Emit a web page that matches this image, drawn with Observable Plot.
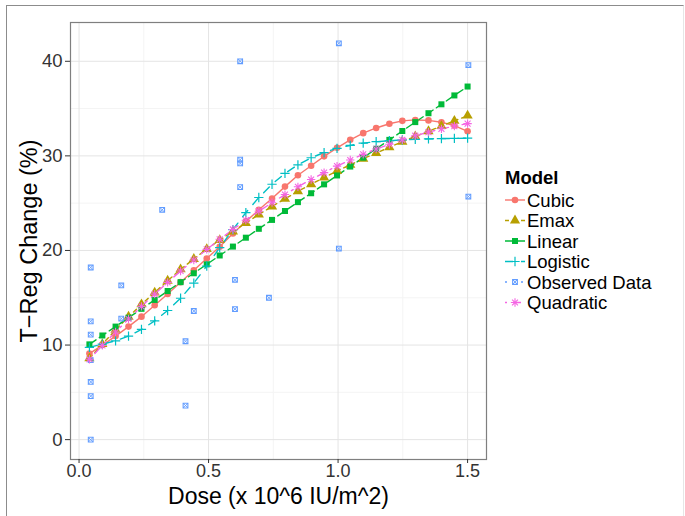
<!DOCTYPE html>
<html><head><meta charset="utf-8">
<script src="https://cdn.jsdelivr.net/npm/d3@7"></script>
<script src="https://cdn.jsdelivr.net/npm/@observablehq/plot@0.6"></script>
<style>
body{margin:0;background:#fff;font-family:Arial,"Liberation Sans",sans-serif;}
#wrap{position:relative;width:685px;height:516px;overflow:hidden;background:#fff;}
#frame{position:absolute;left:6px;top:5px;width:676px;height:600px;border-left:1px solid #8c8c8c;border-top:1px solid #8c8c8c;border-right:1px solid #e6e6e6;}
#chart{position:absolute;left:0;top:0;}
#legend{position:absolute;left:0;top:0;}
</style></head>
<body><div id="wrap"><div id="frame"></div><div id="chart"></div><svg id="legend" width="685" height="516"></svg></div>
<script>
// ---- data ----
const models = ["Cubic","Emax","Linear","Logistic","Observed Data","Quadratic"];
const colors = ["#F8766D","#B79F00","#00BA38","#00BFC4","#619CFF","#F564E3"];
const dashes = ["none","4,4","8,4","8,8","2,6","2,6,8,6"];

const doses = [0.040,0.090,0.141,0.191,0.241,0.292,0.342,0.392,0.443,0.493,0.543,0.594,0.644,0.694,0.745,0.795,0.845,0.896,0.946,0.996,1.047,1.097,1.147,1.198,1.248,1.298,1.349,1.399,1.449,1.500];
const cubic = [9.1,10.0,10.95,11.95,13.0,14.2,15.4,16.65,17.9,19.15,20.4,21.8,23.05,24.3,25.5,26.75,27.95,28.95,29.95,30.85,31.7,32.4,32.95,33.4,33.7,33.8,33.75,33.55,33.2,32.6];
const emax = [8.6,10.1,11.6,13.0,14.3,15.55,16.8,18.0,19.1,20.15,21.1,22.0,22.9,23.8,24.65,25.45,26.25,27.0,27.7,28.4,29.05,29.7,30.3,30.9,31.5,32.05,32.6,33.15,33.7,34.25];
const linear = [10.07,11.01,11.95,12.89,13.83,14.77,15.71,16.65,17.59,18.53,19.47,20.41,21.35,22.29,23.23,24.17,25.11,26.05,26.99,27.93,28.87,29.81,30.75,31.69,32.63,33.57,34.51,35.45,36.39,37.33];
const logistic = [9.75,10.1,10.45,10.95,11.65,12.55,13.65,14.95,16.55,18.35,20.3,22.2,24.0,25.6,27.0,28.15,29.05,29.8,30.35,30.8,31.1,31.35,31.5,31.6,31.7,31.75,31.8,31.83,31.85,31.87];
const quadratic = [8.5,9.96,11.38,12.76,14.09,15.38,16.63,17.83,18.99,20.11,21.18,22.22,23.2,24.15,25.05,25.91,26.73,27.5,28.23,28.92,29.56,30.16,30.72,31.23,31.7,32.13,32.51,32.86,33.15,33.41];

const obsDose = [0.045,0.045,0.045,0.045,0.045,0.045,0.045,0.163,0.163,0.321,0.411,0.411,0.443,0.602,0.602,0.622,0.622,0.622,0.622,0.733,1.003,1.003,1.503,1.503];
const obsValue = [18.2,12.5,11.1,8.4,6.1,4.6,0.0,16.3,12.8,24.3,10.4,3.6,13.6,16.9,13.8,40.0,29.6,29.2,26.7,15.0,41.9,20.2,39.6,25.7];

const yMajor = [0,10,20,30,40];
const yMinor = [5,15,25,35];
const xMajor = [0,0.5,1,1.5];
const xMinor = [0.25,0.75,1.25];
const xTickLabels = ["0.0","0.5","1.0","1.5"];

// ---- tables ----
const series = {Cubic:cubic, Emax:emax, Linear:linear, Logistic:logistic, Quadratic:quadratic};
const curveRows = [];
for (const m of Object.keys(series)) series[m].forEach((v,i)=>curveRows.push({model:m, dose:doses[i], value:v}));
const obsRows = obsDose.map((d,i)=>({dose:d, value:obsValue[i]}));
const col = m => colors[models.indexOf(m)];
const dash = m => dashes[models.indexOf(m)];
const rowsOf = m => curveRows.filter(r=>r.model===m);

const lineMarks = Object.keys(series).map(m =>
  Plot.line(rowsOf(m), {x:"dose", y:"value", stroke:col(m), strokeWidth:1.4, strokeDasharray:dash(m)==="none"?null:dash(m)}));

const dotMarks = [
  Plot.dot(rowsOf("Cubic"), {x:"dose", y:"value", fill:col("Cubic"), r:3.3, symbol:"circle"}),
  Plot.dot(rowsOf("Emax"), {x:"dose", y:"value", fill:col("Emax"), r:3.8, symbol:"triangle"}),
  Plot.dot(rowsOf("Linear"), {x:"dose", y:"value", fill:col("Linear"), r:3.4, symbol:"square"}),
  Plot.dot(rowsOf("Logistic"), {x:"dose", y:"value", stroke:col("Logistic"), fill:"none", r:3.1, symbol:"plus", strokeWidth:1.2}),
  Plot.dot(obsRows, {x:"dose", y:"value", stroke:col("Observed Data"), fill:"none", r:3.0, symbol:"square2", strokeWidth:1.1}),
  Plot.dot(obsRows, {x:"dose", y:"value", stroke:col("Observed Data"), fill:"none", r:2.2, symbol:"times", strokeWidth:0.9}),
  Plot.dot(rowsOf("Quadratic"), {x:"dose", y:"value", stroke:col("Quadratic"), fill:"none", r:2.8, symbol:"plus", strokeWidth:1.1}),
  Plot.dot(rowsOf("Quadratic"), {x:"dose", y:"value", stroke:col("Quadratic"), fill:"none", r:2.8, symbol:"times", strokeWidth:1.1})
];

const chart = Plot.plot({
  width:685, height:516,
  marginLeft:70, marginRight:199, marginTop:22, marginBottom:57,
  style:{fontFamily:"Arial, 'Liberation Sans', sans-serif", background:"transparent", overflow:"visible"},
  x:{domain:[-0.033,1.573]},
  y:{domain:[-2.1,44.1]},
  marks:[
    Plot.ruleY(yMinor, {stroke:"#f4f4f4", strokeWidth:1}),
    Plot.ruleX(xMinor, {stroke:"#f4f4f4", strokeWidth:1}),
    Plot.ruleY(yMajor, {stroke:"#e4e4e4", strokeWidth:1}),
    Plot.ruleX(xMajor, {stroke:"#e4e4e4", strokeWidth:1}),
    Plot.frame({stroke:"#7f7f7f", strokeWidth:1.2}),
    Plot.axisY({ticks:yMajor, tickSize:5, tickPadding:3, fontSize:18.5, color:"#333", label:null}),
    Plot.axisX({ticks:xMajor, tickFormat:(d)=>xTickLabels[xMajor.indexOf(d)], tickSize:4, tickPadding:1, fontSize:18, color:"#333", label:null}),
    ...lineMarks,
    ...dotMarks,
    Plot.text(["Dose (x 10^6 IU/m^2)"], {text:d=>d, frameAnchor:"bottom", textAnchor:"middle", lineAnchor:"middle", dy:37, fontSize:23, fill:"#000"}),
    Plot.text(["T\u2212Reg Change (%)"], {text:d=>d, frameAnchor:"left", textAnchor:"middle", dx:-41, rotate:-90, fontSize:23.5, fill:"#000"})
  ]
});
document.getElementById("chart").appendChild(chart);

// ---- legend ----
const lg = d3.select("#legend");
lg.append("text").attr("x",505).attr("y",184).attr("font-size",18.5).attr("font-weight","bold")
  .attr("font-family","Arial, 'Liberation Sans', sans-serif").text("Model");
const sym = (type, r) => d3.symbol().type(type).size(Math.PI*r*r)();
models.forEach((m,i)=>{
  const cy = 200 + i*20.5;
  const g = lg.append("g");
  const ln = g.append("line").attr("x1",505).attr("x2",525).attr("y1",cy).attr("y2",cy)
    .attr("stroke",colors[i]).attr("stroke-width",1.4);
  if (dashes[i] !== "none") ln.attr("stroke-dasharray",dashes[i]);
  const t = `translate(515,${cy})`;
  if (m==="Cubic") g.append("path").attr("d",sym(d3.symbolCircle,3.3)).attr("transform",t).attr("fill",colors[i]);
  if (m==="Emax") g.append("path").attr("d",sym(d3.symbolTriangle,3.8)).attr("transform",t).attr("fill",colors[i]);
  if (m==="Linear") g.append("path").attr("d",sym(d3.symbolSquare,3.4)).attr("transform",t).attr("fill",colors[i]);
  if (m==="Logistic") g.append("path").attr("d",sym(d3.symbolPlus,3.1)).attr("transform",t).attr("fill","none").attr("stroke",colors[i]).attr("stroke-width",1.2);
  if (m==="Observed Data") {
    g.append("path").attr("d",sym(d3.symbolSquare2,3.0)).attr("transform",t).attr("fill","#fff").attr("stroke",colors[i]).attr("stroke-width",1.1);
    g.append("path").attr("d",sym(d3.symbolTimes,2.2)).attr("transform",t).attr("fill","none").attr("stroke",colors[i]).attr("stroke-width",0.9);
  }
  if (m==="Quadratic") {
    g.append("path").attr("d",sym(d3.symbolPlus,2.8)).attr("transform",t).attr("fill","none").attr("stroke",colors[i]).attr("stroke-width",1.1);
    g.append("path").attr("d",sym(d3.symbolTimes,2.8)).attr("transform",t).attr("fill","none").attr("stroke",colors[i]).attr("stroke-width",1.1);
  }
  g.append("text").attr("x",527).attr("y",cy+6.6).attr("font-size",18.5)
    .attr("font-family","Arial, 'Liberation Sans', sans-serif").text(m);
});
</script></body></html>
